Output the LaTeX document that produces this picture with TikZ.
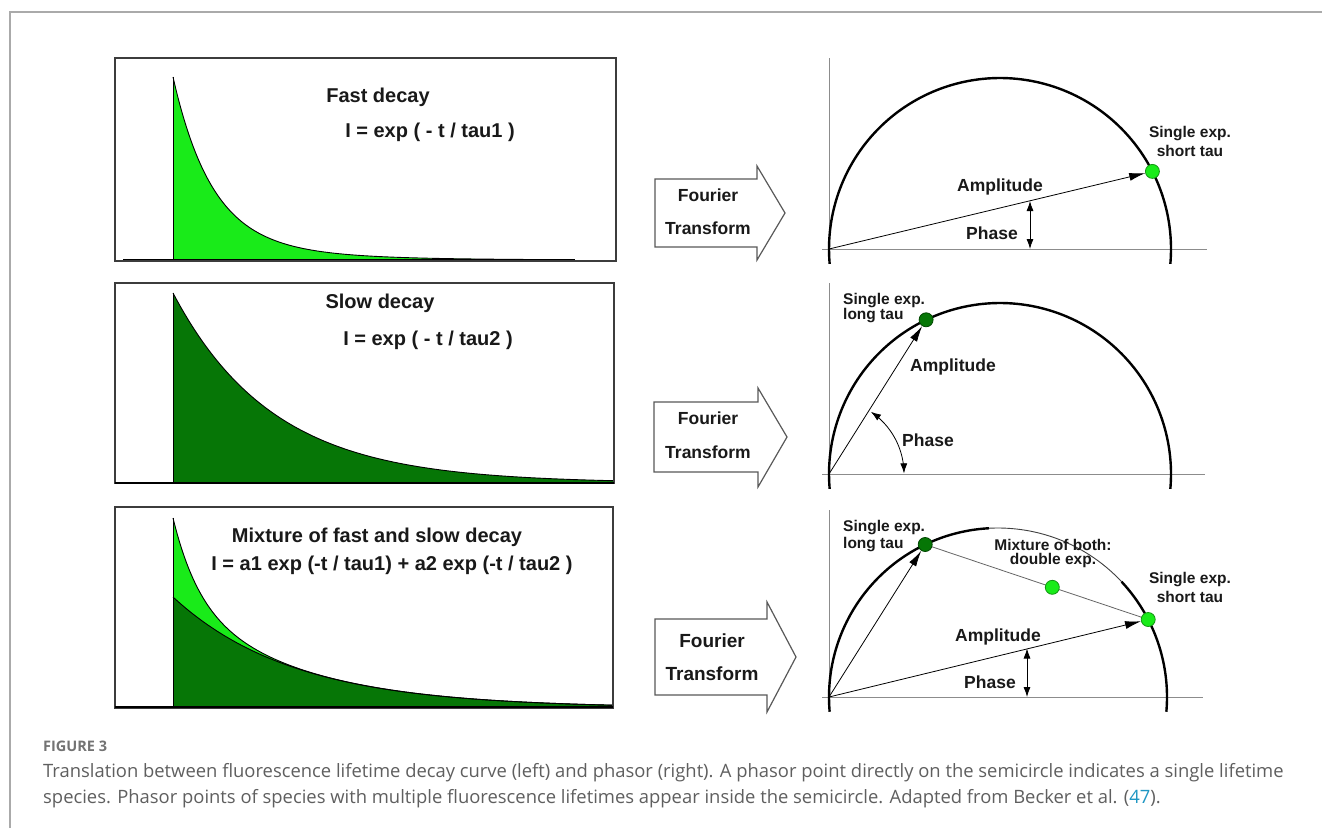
\documentclass[tikz,border=0pt]{standalone}
\usepackage{fontspec}
\setmainfont{Liberation Sans}
\newfontfamily\capfont{Open Sans}
\usetikzlibrary{arrows.meta}
\definecolor{lg}{RGB}{25,235,25}
\definecolor{lgd}{RGB}{20,150,20}
\definecolor{dg}{RGB}{6,118,6}
\definecolor{dgd}{RGB}{0,70,0}
\definecolor{framegray}{RGB}{170,170,170}
\definecolor{axisgray}{RGB}{140,140,140}
\definecolor{boxgray}{RGB}{60,60,60}
\definecolor{captxt}{RGB}{95,95,95}
\definecolor{capfig}{RGB}{115,115,115}
\definecolor{linkc}{RGB}{30,150,195}
\tikzset{
  lbl/.style={font=\bfseries\fontsize{20}{22}\selectfont, inner sep=0pt, text=black!90},
  plbl/.style={font=\bfseries\fontsize{17.5}{19}\selectfont, inner sep=0pt, text=black!90},
  flbl/.style={font=\bfseries\fontsize{19}{21}\selectfont, inner sep=0pt, text=black!90},
  slbl/.style={font=\bfseries\fontsize{15.5}{17}\selectfont, inner sep=0pt, text=black!90},
  panelbox/.style={draw=boxgray, line width=1.5pt},
  curve/.style={draw=black, line width=0.9pt},
  baseln/.style={draw=black, line width=1.6pt},
  axis/.style={draw=axisgray, line width=1pt},
  semic/.style={draw=black, line width=2.4pt},
  thinarc/.style={draw=black!75, line width=0.9pt},
  amp/.style={draw=black, line width=0.8pt, -{Latex[length=16pt,width=8pt]}},
  phase/.style={draw=black, line width=0.8pt, {Latex[length=10pt,width=7pt]}-{Latex[length=10pt,width=7pt]}},
  dotL/.style={circle, fill=lg, draw=lgd, line width=0.8pt, minimum size=14pt, inner sep=0pt},
  dotD/.style={circle, fill=dg, draw=dgd, line width=0.8pt, minimum size=14pt, inner sep=0pt},
  fourier/.style={fill=white, draw=black!65, line width=1.2pt, line join=miter},
  captext/.style={font=\capfont\fontsize{18.4}{22}\selectfont, text=captxt, inner sep=0pt, anchor=base west},
}
\begin{document}
\begin{tikzpicture}[x=1pt,y=-1pt]
\useasboundingbox (0,0) rectangle (1322,828);
\fill[white] (0,0) rectangle (1322,828);
% outer frame
\draw[framegray, line width=1.5pt] (10,828) -- (10,12) -- (1322,12);

% ---------- Panel 1 : fast decay ----------
\fill[lg] (173,260) -- plot[domain=0:400,samples=160] ({173+\x},{260-183*(0.85*exp(-\x/38)+0.15*exp(-\x/90))}) -- (573,260) -- cycle;
\draw[curve] plot[domain=0:400,samples=160] ({173+\x},{260-183*(0.85*exp(-\x/38)+0.15*exp(-\x/90))});
\draw[curve] (173,260) -- (173,77);
\draw[baseln] (123,260) -- (575,260);
\draw[panelbox] (115,58) rectangle (616,261);
\node[lbl] (t1a) at (378,97) {Fast decay};
\node[lbl] (t1b) at (430,132) {I = exp ( - t / tau1 )};

% ---------- Panel 2 : slow decay ----------
\fill[dg] (173,483) -- plot[domain=0:440,samples=160] ({173+\x},{483-190*exp(-\x/100)}) -- (613,483) -- cycle;
\draw[curve] plot[domain=0:440,samples=160] ({173+\x},{483-190*exp(-\x/100)});
\draw[curve] (173,483) -- (173,293);
\draw[panelbox] (115,283) rectangle (614,483);
\draw[baseln] (115,483) -- (614,483);
\node[lbl] (t2a) at (380,303) {Slow decay};
\node[lbl] (t2b) at (428,340) {I = exp ( - t / tau2 )};

% ---------- Panel 3 : mixture ----------
\fill[lg] (173,708) -- plot[domain=0:440,samples=200] ({173+\x},{708-111*exp(-\x/120)-79*exp(-\x/25)}) -- (613,708) -- cycle;
\fill[dg] (173,708) -- plot[domain=0:440,samples=200] ({173+\x},{708-111*exp(-\x/120)}) -- (613,708) -- cycle;
\draw[curve] plot[domain=0:440,samples=200] ({173+\x},{708-111*exp(-\x/120)-79*exp(-\x/25)});
\draw[curve] plot[domain=0:440,samples=200] ({173+\x},{708-111*exp(-\x/120)});
\draw[curve] (173,708) -- (173,518);
\draw[panelbox] (115,507) rectangle (613,708);
\draw[baseln] (115,707) -- (613,707);
\node[lbl] (t3a) at (377,537) {Mixture of fast and slow decay};
\node[lbl] (t3b) at (392,565) {I = a1 exp (-t / tau1) + a2 exp (-t / tau2 )};

% ---------- Fourier transform arrows ----------
\draw[fourier] (655,179) -- (757,179) -- (757,166) -- (785,213) -- (757,260) -- (757,247) -- (655,247) -- cycle;
\node[plbl] (f1a) at (708,195) {Fourier};
\node[plbl] (f1b) at (708,228) {Transform};
\draw[fourier] (654,402) -- (758,402) -- (758,388) -- (787,437) -- (758,487) -- (758,472) -- (654,472) -- cycle;
\node[plbl] (f2a) at (708,418) {Fourier};
\node[plbl] (f2b) at (708,452) {Transform};
\draw[fourier] (655,619) -- (767,619) -- (767,602) -- (796,657) -- (767,712) -- (767,695) -- (655,695) -- cycle;
\node[flbl] (f3a) at (712,641) {Fourier};
\node[flbl] (f3b) at (712,674) {Transform};

% ---------- Phasor 1 ----------
\coordinate (o1) at (829,249);
\draw[axis] (829,58) -- (o1);
\draw[axis] (822,249) -- (1207,249);
\draw[semic] plot[domain=-5:185,samples=120] ({1000+171*cos(\x)},{249-171*sin(\x)});
\node[dotL] (s1) at (1152.4,171.4) {};
\draw[amp] (o1) -- (s1);
\coordinate (p1a) at (1030,201);
\coordinate (p1b) at (1030,249);
\draw[phase] (p1a) -- (p1b);
\node[plbl] (a1) at (1000,187) {Amplitude};
\node[plbl] (ph1) at (992,233) {Phase};
\node[slbl] (s1a) at (1190,134) {Single exp.};
\node[slbl] (s1b) at (1190,151) {short tau};

% ---------- Phasor 2 ----------
\coordinate (o2) at (829,474);
\draw[axis] (829,283) -- (o2);
\draw[axis] (822,474) -- (1205,474);
\draw[semic] plot[domain=-5:185,samples=120] ({1000+171*cos(\x)},{474-171*sin(\x)});
\node[dotD] (l2) at (926.1,319.8) {};
\draw[amp] (o2) -- (l2);
\draw[phase] plot[domain=0.5:56,samples=40] ({829+75*cos(\x)},{474-75*sin(\x)});
\node[plbl] (a2) at (953,367) {Amplitude};
\node[plbl] (ph2) at (928,440) {Phase};
\node[slbl, anchor=west] (l2a) at (843,301) {Single exp.};
\node[slbl, anchor=west] (l2b) at (843,316) {long tau};

% ---------- Phasor 3 ----------
\coordinate (o3) at (829,697);
\draw[axis] (829,510) -- (o3);
\draw[axis] (822,697) -- (1203,697);
\draw[semic] plot[domain=93:185,samples=80] ({998+169*cos(\x)},{697-169*sin(\x)});
\draw[thinarc] plot[domain=43:93,samples=50] ({998+169*cos(\x)},{697-169*sin(\x)});
\draw[semic] plot[domain=-5:43,samples=50] ({998+169*cos(\x)},{697-169*sin(\x)});
\coordinate (l3c) at (925.2,544.5);
\coordinate (s3c) at (1148.2,619.5);
\draw[draw=black!60, line width=0.8pt] (l3c) -- (s3c);
\node[dotD] (l3) at (l3c) {};
\node[dotL] (s3) at (s3c) {};
\node[dotL] (m3) at (1052.3,587.3) {};
\draw[amp] (o3) -- (l3);
\draw[amp] (o3) -- (s3);
\coordinate (p3a) at (1027,648.5);
\coordinate (p3b) at (1027,697);
\draw[phase] (p3a) -- (p3b);
\node[plbl] (a3) at (998,637) {Amplitude};
\node[plbl] (ph3) at (990,682) {Phase};
\node[slbl, anchor=west] (l3a) at (843,528) {Single exp.};
\node[slbl, anchor=west] (l3b) at (843,545) {long tau};
\node[slbl] (m3a) at (1053,545) {Mixture of both:};
\node[slbl] (m3b) at (1053,560) {double exp.};
\node[slbl] (s3a) at (1190,580) {Single exp.};
\node[slbl] (s3b) at (1190,597) {short tau};

% ---------- Caption ----------
\node[captext, font=\capfont\bfseries\fontsize{14.5}{17}\selectfont, text=capfig] (fig) at (43,751) {FIGURE 3};
\node[captext] (c1) at (43,777) {Translation between fluorescence lifetime decay curve (left) and phasor (right). A phasor point directly on the semicircle indicates a single lifetime};
\node[captext] (c2) at (43,803) {species. Phasor points of species with multiple fluorescence lifetimes appear inside the semicircle. Adapted from Becker et al. (\textcolor{linkc}{47}).};
\end{tikzpicture}
\end{document}
